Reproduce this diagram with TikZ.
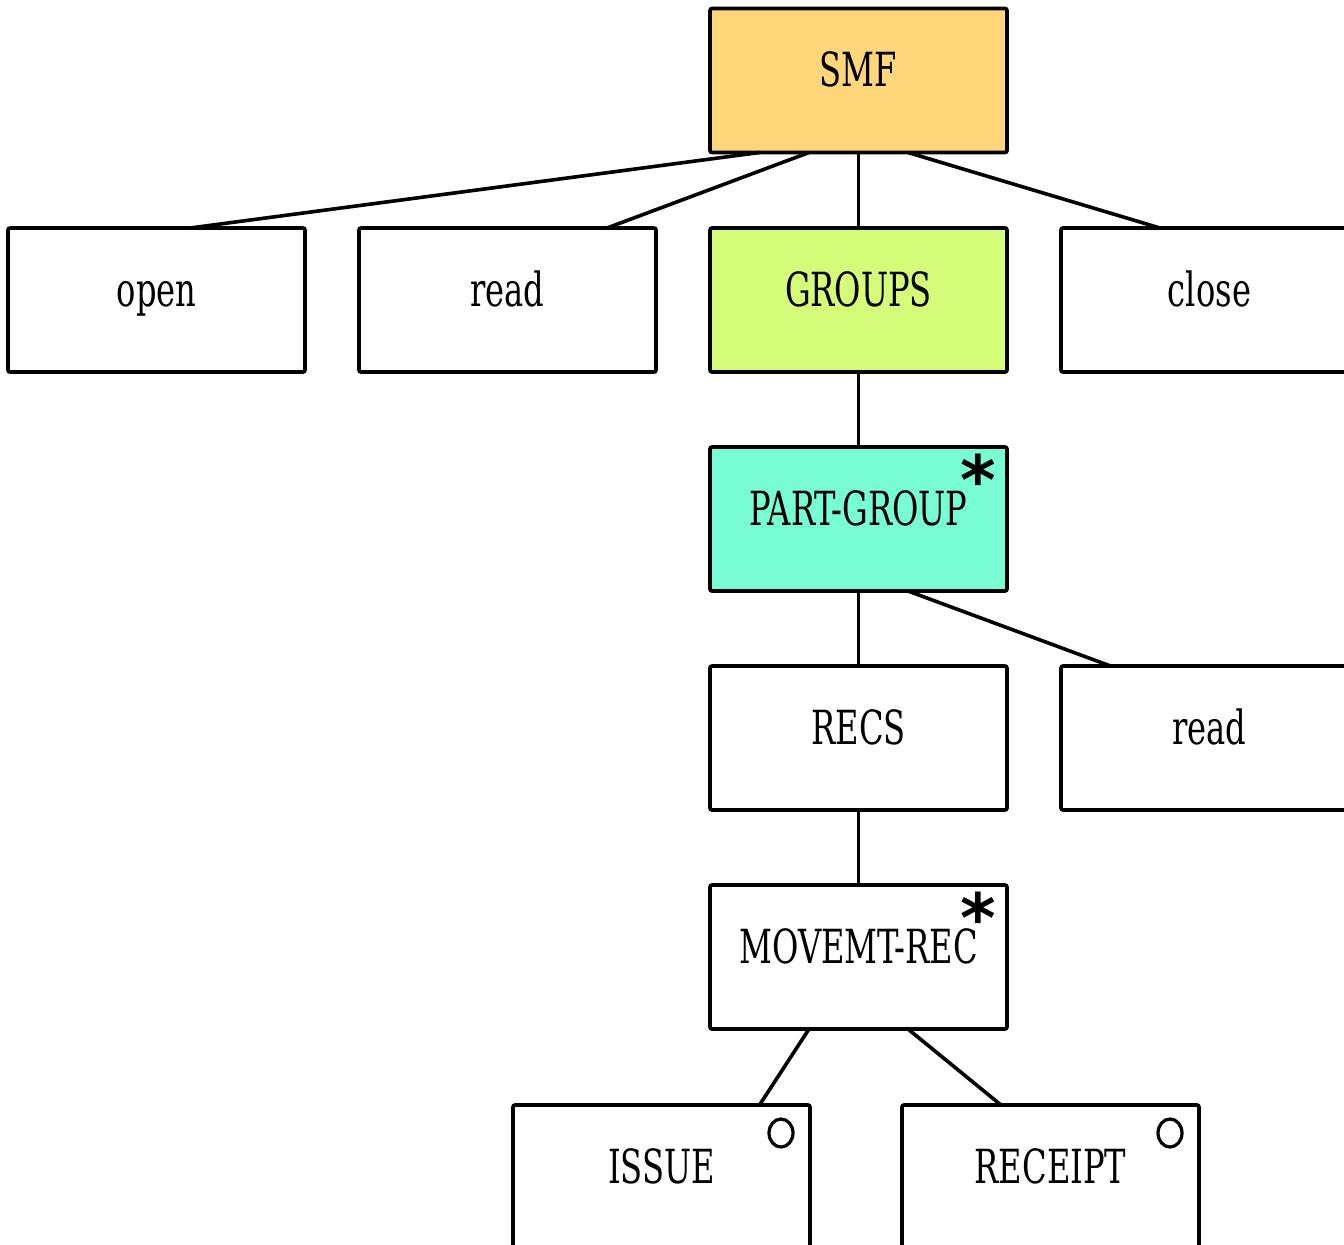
\documentclass[tikz,border=0pt]{standalone}
\usepackage{fontspec}
\setmainfont{DejaVu Serif Condensed}[FakeStretch=0.76]
\newfontfamily\markfont{DejaVu Sans}
\usetikzlibrary{calc}
\definecolor{smfcol}{RGB}{255,214,122}
\definecolor{grpcol}{RGB}{212,252,120}
\definecolor{pgcol}{RGB}{119,252,212}
\tikzset{
  x=0.5pt, y=-0.5pt,
  box/.style={draw=black, line width=1.8pt, rounded corners=1pt,
    minimum width=148.5pt, minimum height=72pt, inner sep=0pt, outer sep=0pt},
  lbl/.style={font=\fontsize{23.5}{28}\selectfont, text height=17.2pt, text depth=0pt,
    inner sep=0pt},
  link/.style={line width=1.8pt},
  star/.style={font=\markfont\bfseries\fontsize{34}{34}\selectfont, inner sep=0pt},
  optmark/.style={draw=black, line width=1.6pt},
}
\begin{document}
\begin{tikzpicture}
\useasboundingbox (0,0) rectangle (1344,1244);
% boxes
\node[box, fill=smfcol] (smf) at (858.5,80.5) {};
\node[box] (open) at (156.5,300) {};
\node[box] (read) at (507.5,300) {};
\node[box, fill=grpcol] (groups) at (858.5,300) {};
\node[box] (close) at (1209.5,300) {};
\node[box, fill=pgcol] (pg) at (858.5,519) {};
\node[box] (recs) at (858.5,738) {};
\node[box] (readb) at (1209.5,738) {};
\node[box] (mov) at (858.5,957) {};
\node[box] (issue) at (661.5,1177) {};
\node[box] (receipt) at (1050.5,1177) {};
% labels
\foreach \b/\t in {smf/SMF, open/open, read/read, groups/GROUPS, close/close,
  pg/PART-GROUP, recs/RECS, readb/read, mov/MOVEMT-REC, issue/ISSUE, receipt/RECEIPT}
  \node[lbl] (\b-t) at ([yshift=5.5pt]\b.center) {\t};
% iteration marks
\node[star] (pg-star) at ([xshift=-14.5pt,yshift=-16pt]pg.north east) {*};
\node[star] (mov-star) at ([xshift=-14.5pt,yshift=-16pt]mov.north east) {*};
% option marks
\draw[optmark] ([xshift=-14.5pt,yshift=-14pt]issue.north east) coordinate (issue-o)
  circle[x radius=6pt, y radius=7pt];
\draw[optmark] ([xshift=-14.5pt,yshift=-14pt]receipt.north east) coordinate (receipt-o)
  circle[x radius=6pt, y radius=7pt];
% connectors
\draw[link] ($(smf.south west)!1/6!(smf.south east)$) -- ($(open.north west)!0.613!(open.north east)$);
\draw[link] ($(smf.south west)!1/3!(smf.south east)$) -- ($(read.north west)!0.835!(read.north east)$);
\draw[link] (smf.south) -- (groups.north);
\draw[link] ($(smf.south west)!2/3!(smf.south east)$) -- ($(close.north west)!1/3!(close.north east)$);
\draw[link] (groups.south) -- (pg.north);
\draw[link] (pg.south) -- (recs.north);
\draw[link] ($(pg.south west)!2/3!(pg.south east)$) -- ($(readb.north west)!1/6!(readb.north east)$);
\draw[link] (recs.south) -- (mov.north);
\draw[link] ($(mov.south west)!1/3!(mov.south east)$) -- ($(issue.north west)!0.83!(issue.north east)$);
\draw[link] ($(mov.south west)!2/3!(mov.south east)$) -- ($(receipt.north west)!1/3!(receipt.north east)$);
\end{tikzpicture}
\end{document}
